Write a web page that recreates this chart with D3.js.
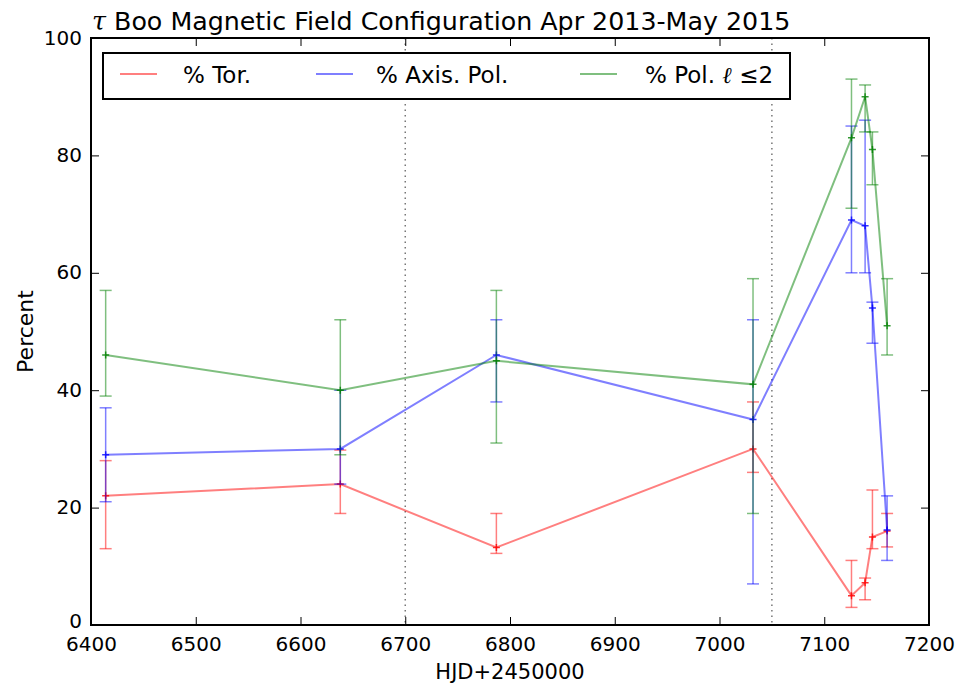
<!DOCTYPE html>
<html><head><meta charset="utf-8">
<script src="https://cdn.jsdelivr.net/npm/d3@7"></script>
<style>body{margin:0;background:#fff}svg{display:block}text{font-family:"DejaVu Sans",sans-serif}</style>
</head><body><svg id="c" width="955" height="686"></svg>
<script>
const dates = [6414, 6638, 6787, 7032, 7126, 7139, 7146, 7160];
const torVal = [22, 24, 13.2, 30, 5, 7.2, 15, 16];
const torLo  = [13, 19, 12.2, 26, 3, 4.3, 13, 13.3];
const torHi  = [28, 29.8, 19, 38, 11, 8, 23, 19];
const axVal  = [29, 30, 46, 35, 69, 68, 54, 16.2];
const axLo   = [21, 24, 38, 7, 60, 60, 48, 11];
const axHi   = [37, 40, 52, 52, 85, 86, 55, 22];
const polVal = [46, 40, 45, 41, 83, 90, 81, 51];
const polLo  = [39, 29, 31, 19, 71, 84, 75, 46];
const polHi  = [57, 52, 57, 59, 93, 92, 84, 59];
const xTicks = [6400, 6500, 6600, 6700, 6800, 6900, 7000, 7100, 7200];
const yTicks = [0, 20, 40, 60, 80, 100];
const vlines = [6700, 7050];

const series = [
  {name: "% Tor.", val: torVal, lo: torLo, hi: torHi, color: "#ff0000"},
  {name: "% Axis. Pol.", val: axVal, lo: axLo, hi: axHi, color: "#0000ff"},
  {name: "% Pol.", val: polVal, lo: polLo, hi: polHi, color: "#008000"}
];

const L = 91, R = 929, T = 38, B = 625;
const svg = d3.select("#c");
const x = d3.scaleLinear().domain([6400, 7200]).range([L, R]);
const y = d3.scaleLinear().domain([0, 100]).range([B, T]);

svg.selectAll(".vl").data(vlines).join("line")
  .attr("x1", d => x(d)).attr("x2", d => x(d)).attr("y1", T).attr("y2", B)
  .attr("stroke", "#777").attr("stroke-width", 1.5).attr("stroke-dasharray", "1.5,4");

const g = svg.append("g");
series.forEach(s => {
  const pts = dates.map((d, i) => ({x: d, v: s.val[i], lo: s.lo[i], hi: s.hi[i]}));
  const sg = g.append("g");
  sg.selectAll(".eb").data(pts).join("line")
    .attr("x1", d => x(d.x)).attr("x2", d => x(d.x))
    .attr("y1", d => y(d.lo)).attr("y2", d => y(d.hi))
    .attr("stroke", s.color).attr("stroke-opacity", 0.5).attr("stroke-width", 1.5);
  ["lo", "hi"].forEach(k => {
    sg.selectAll(".cap" + k).data(pts).join("line")
      .attr("x1", d => x(d.x) - 6).attr("x2", d => x(d.x) + 6)
      .attr("y1", d => y(d[k])).attr("y2", d => y(d[k]))
      .attr("stroke", s.color).attr("stroke-opacity", 0.5).attr("stroke-width", 1.5);
  });
  sg.append("path").datum(pts)
    .attr("d", d3.line().x(d => x(d.x)).y(d => y(d.v)))
    .attr("fill", "none").attr("stroke", s.color).attr("stroke-opacity", 0.5).attr("stroke-width", 2);
  sg.selectAll(".mk").data(pts).join("path")
    .attr("d", d => `M${x(d.x) - 3.5},${y(d.v)}H${x(d.x) + 3.5}M${x(d.x)},${y(d.v) - 3.5}V${y(d.v) + 3.5}`)
    .attr("stroke", s.color).attr("stroke-opacity", 0.8).attr("stroke-width", 1.5);
});

svg.append("rect").attr("x", L).attr("y", T).attr("width", R - L).attr("height", B - T)
  .attr("fill", "none").attr("stroke", "#000").attr("stroke-width", 2);

const xb = svg.append("g").attr("transform", `translate(0,${B})`)
  .call(d3.axisBottom(x).tickValues(xTicks).tickFormat(d3.format("d")).tickSizeInner(-8).tickSizeOuter(0).tickPadding(12));
const xt = svg.append("g").attr("transform", `translate(0,${T})`)
  .call(d3.axisTop(x).tickValues(xTicks).tickFormat("").tickSizeInner(-8).tickSizeOuter(0));
const yl = svg.append("g").attr("transform", `translate(${L},0)`)
  .call(d3.axisLeft(y).tickValues(yTicks).tickFormat(d3.format("d")).tickSizeInner(-8).tickSizeOuter(0).tickPadding(9));
const yr = svg.append("g").attr("transform", `translate(${R},0)`)
  .call(d3.axisRight(y).tickValues(yTicks).tickFormat("").tickSizeInner(-8).tickSizeOuter(0));
[xb, xt, yl, yr].forEach(a => {
  a.select(".domain").remove();
  a.selectAll("line").attr("stroke", "#000").attr("stroke-width", 1);
  a.selectAll("text").attr("font-size", 20).attr("fill", "#000").attr("font-family", "DejaVu Sans");
});
yl.selectAll("text").attr("dy", d => d === 0 ? "0.1em" : "0.3em");

svg.append("text").attr("x", (L + R) / 2).attr("y", 679).attr("text-anchor", "middle")
  .attr("font-size", 21).text("HJD+2450000");
svg.append("text").attr("transform", `translate(33,${(T + B) / 2}) rotate(-90)`).attr("text-anchor", "middle")
  .attr("font-size", 22).text("Percent");
const title = svg.append("text").attr("x", 92).attr("y", 30).attr("font-size", 25.3);
title.append("tspan").attr("font-style", "italic").attr("font-family", "DejaVu Serif").text("τ");
title.append("tspan").text(" Boo Magnetic Field Configuration Apr 2013-May 2015");

const lg = svg.append("g");
lg.append("rect").attr("x", 103).attr("y", 53).attr("width", 687).attr("height", 46)
  .attr("fill", "#fff").attr("stroke", "#000").attr("stroke-width", 2);
const legX = [120, 316, 580];
const legT = [183, 376, 645];
series.forEach((s, i) => {
  lg.append("line").attr("x1", legX[i]).attr("x2", legX[i] + 37).attr("y1", 74).attr("y2", 74)
    .attr("stroke", s.color).attr("stroke-opacity", 0.5).attr("stroke-width", 2);
  const t = lg.append("text").attr("x", legT[i]).attr("y", 83).attr("font-size", 23).text(s.name);
  if (i === 2) {
    t.append("tspan").text(" ");
    t.append("tspan").attr("font-style", "italic").attr("font-family", "DejaVu Serif").text("ℓ");
    t.append("tspan").text(" ≤2");
  }
});
</script></body></html>
